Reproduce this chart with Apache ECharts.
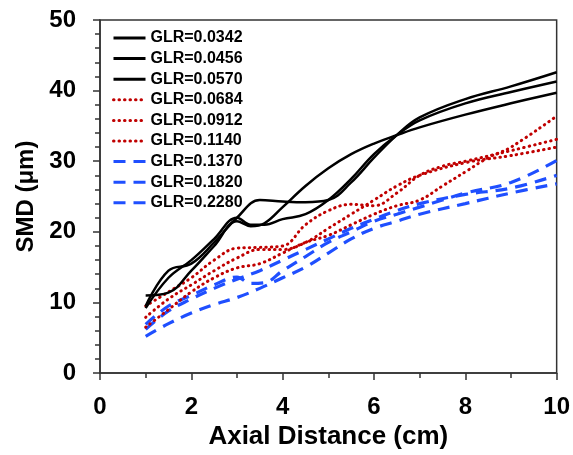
<!DOCTYPE html>
<html>
<head>
<meta charset="utf-8">
<script src="https://cdn.jsdelivr.net/npm/echarts@6/dist/echarts.min.js"></script>
<style>html,body{margin:0;padding:0;background:#fff}#c{width:573px;height:455px}</style>
</head>
<body>
<div id="c"></div>
<script>
const seriesNames = ['GLR=0.0342','GLR=0.0456','GLR=0.0570','GLR=0.0684','GLR=0.0912','GLR=0.1140','GLR=0.1370','GLR=0.1820','GLR=0.2280'];
const xTicks = [0, 2, 4, 6, 8, 10];
const yTicks = [0, 10, 20, 30, 40, 50];

const glr0342 = [[1,11.0],[1.5,11.4],[2,14.5],[2.5,18],[3,21.5],[3.3,20.8],[3.6,21.2],[4,23.5],[4.5,26.5],[5,29],[5.5,31],[6,32.5],[6.5,33.7],[7,34.8],[8,36.6],[9,38.2],[10,39.7]];
const glr0456 = [[1,9.5],[1.5,14.5],[2,15.5],[2.5,18.5],[3,22],[3.5,24.5],[4,24.3],[4.5,24.2],[5,24.5],[5.5,27],[6,30.5],[6.5,33.7],[7,36.2],[8,38.8],[9,40.6],[10,42.6]];
const glr0570 = [[1,9.2],[1.5,13.5],[2,16],[2.5,19],[3,22],[3.3,21],[3.6,21],[4,21.8],[4.5,22.5],[5,24.5],[5.5,27.5],[6,31],[6.5,33.7],[7,35.8],[8,38.2],[9,39.8],[10,41.3]];
const glr0684 = [[1,9.5],[1.5,11.5],[2,13.5],[2.5,16],[3,17.7],[3.5,17.8],[4,18],[4.5,21],[5,23],[5.5,23.9],[6,23.7],[6.5,25.5],[7,28],[7.5,29.3],[8,30],[9,31.5],[10,33.1]];
const glr0912 = [[1,7.9],[1.5,10.5],[2,12.5],[2.5,14.5],[3,16.3],[3.5,17.5],[4,17.5],[4.5,18.5],[5,20.5],[5.5,22.5],[6,24.5],[6.5,26.5],[7,28],[8,29.8],[9,30.8],[10,32]];
const glr1140 = [[1,6.5],[1.5,9],[2,11.5],[2.5,13.5],[3,14.9],[3.5,15.5],[4,17],[4.5,18.5],[5,19.5],[5.5,21],[6,22.5],[6.5,23.7],[7,24.5],[7.5,26.5],[8,28.5],[8.5,30.5],[9,32],[10,36.4]];
const glr1370 = [[1,6.9],[1.5,9.5],[2,11],[2.5,12.5],[3,13.6],[3.3,12.7],[3.6,12.8],[4,14.5],[4.5,16.5],[5,18.5],[5.5,20],[6,21.5],[6.5,22.5],[7,23.5],[7.5,24.5],[8,25.5],[9,27],[10,30.1]];
const glr1820 = [[1,6.2],[1.5,8.8],[2,10.5],[2.5,12],[3,13.3],[3.5,14.5],[4,16],[4.5,17.5],[5,19],[5.5,20.5],[6,21.8],[6.5,23],[7,24],[8,25.3],[9,26.2],[10,28.0]];
const glr2280 = [[1,5.2],[1.5,7],[2,8.5],[2.5,9.7],[3,10.7],[3.5,12],[4,13.5],[4.5,15],[5,17],[5.5,19],[6,20.5],[6.5,21.5],[7,22.5],[8,24],[9,25.5],[10,26.8]];

const allData = [glr0342, glr0456, glr0570, glr0684, glr0912, glr1140, glr1370, glr1820, glr2280];
const styles = [
  {color:'#000000', type:'solid', width:2.5},
  {color:'#000000', type:'solid', width:2.5},
  {color:'#000000', type:'solid', width:2.5},
  {color:'#c00000', type:[0.5,5], width:3, cap:'round'},
  {color:'#c00000', type:[0.5,5], width:3, cap:'round'},
  {color:'#c00000', type:[0.5,5], width:3, cap:'round'},
  {color:'#1f4fff', type:[12,8], width:3.2},
  {color:'#1f4fff', type:[12,8], width:3.2},
  {color:'#1f4fff', type:[12,8], width:3.2}
];

const font = 'Liberation Sans, Arial, sans-serif';
const chart = echarts.init(document.getElementById('c'), null, {renderer:'canvas'});
chart.setOption({
  animation: false,
  backgroundColor: '#ffffff',
  grid: {left:100, right:16, top:20, bottom:80, show:true, borderColor:'#333', borderWidth:1.5, backgroundColor:'transparent'},
  legend: {
    orient:'vertical', left:107, top:25, itemWidth:32, itemHeight:14, itemGap:4.6,
    data: seriesNames,
    itemStyle:{opacity:0},
    lineStyle:{width:3},
    textStyle:{fontFamily:font, fontWeight:'bold', fontSize:16, color:'#000'}
  },
  xAxis: {
    type:'value', min:xTicks[0], max:xTicks[xTicks.length-1], interval:2,
    name:'Axial Distance (cm)', nameLocation:'middle', nameGap:50,
    nameTextStyle:{fontFamily:font, fontWeight:'bold', fontSize:26, color:'#000'},
    axisLine:{lineStyle:{color:'#333', width:1.5}},
    axisTick:{length:7, lineStyle:{color:'#333', width:1.5}},
    minorTick:{show:true, splitNumber:2, length:5, lineStyle:{color:'#333', width:1.5}},
    splitLine:{show:false},
    axisLabel:{fontFamily:font, fontWeight:'bold', fontSize:24, color:'#000', margin:22}
  },
  yAxis: {
    type:'value', min:yTicks[0], max:yTicks[yTicks.length-1], interval:10,
    name:'SMD (μm)', nameLocation:'middle', nameGap:62, nameRotate:90,
    nameTextStyle:{fontFamily:font, fontWeight:'bold', fontSize:24, color:'#000'},
    axisLine:{lineStyle:{color:'#333', width:1.5}},
    axisTick:{length:7, lineStyle:{color:'#333', width:1.5}},
    minorTick:{show:true, splitNumber:5, length:5, lineStyle:{color:'#333', width:1.5}},
    splitLine:{show:false},
    axisLabel:{fontFamily:font, fontWeight:'bold', fontSize:24, color:'#000', margin:24}
  },
  series: allData.map((d, i) => ({
    name: seriesNames[i], type:'line', data:d, smooth:0.4, symbol:'none', showSymbol:false,
    lineStyle: styles[i], itemStyle:{color:styles[i].color}, z: 10 - i
  }))
});
</script>
</body>
</html>
